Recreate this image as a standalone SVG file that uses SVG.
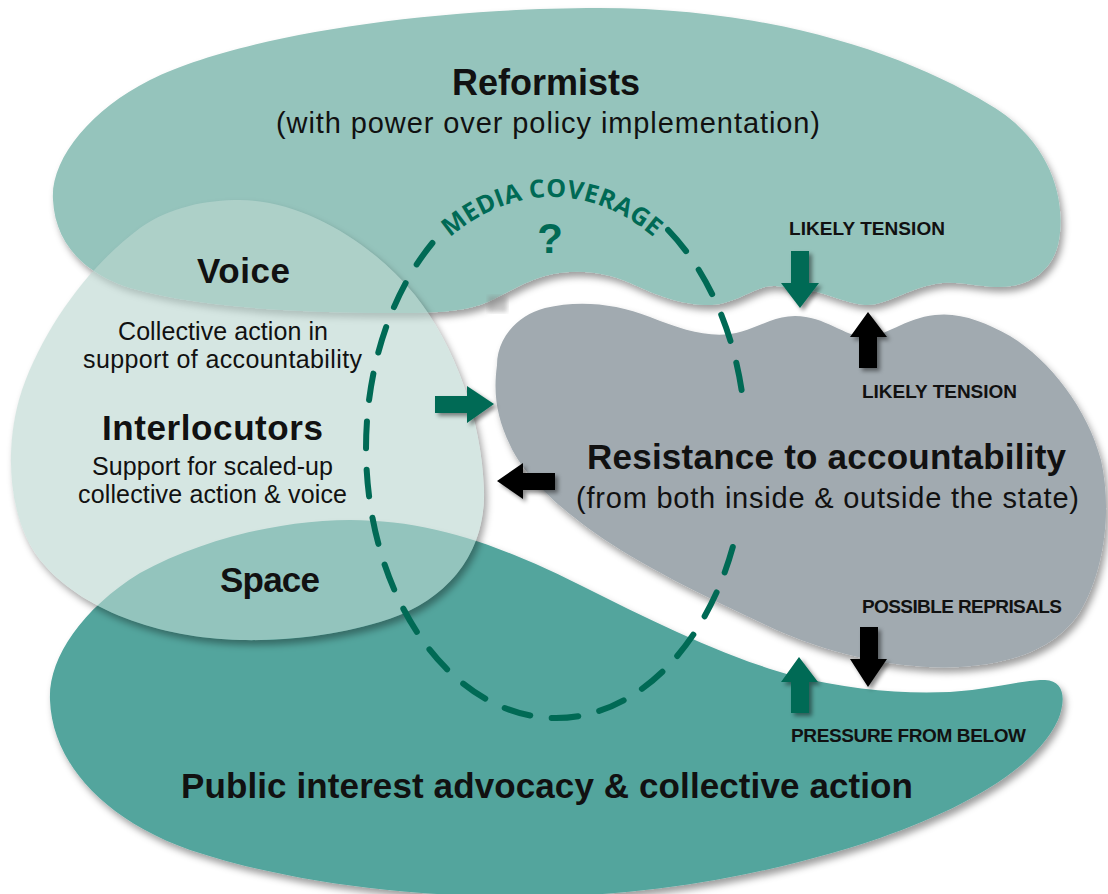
<svg xmlns="http://www.w3.org/2000/svg" width="1108" height="894" viewBox="0 0 1108 894">
<defs>
<style>
.t{font-family:"Liberation Sans",Arial,sans-serif;fill:#111}
.b{font-weight:bold}
.cap{font-weight:bold;font-size:19px}
.media{font-family:"Open Sans","Liberation Sans",sans-serif;font-weight:700;font-size:25px;fill:#006A55;letter-spacing:0.3px}
.green{fill:#006A55}
.black{fill:#000}
.dash{fill:none;stroke:#006A55;stroke-width:6;stroke-linecap:round;stroke-dasharray:26 21}
</style>
<filter id="blobShadow" x="-10%" y="-10%" width="125%" height="130%">
<feDropShadow dx="3" dy="5" stdDeviation="3.5" flood-color="#000" flood-opacity="0.38"/>
</filter>
<filter id="outShadow" x="-10%" y="-10%" width="125%" height="130%">
<feGaussianBlur in="SourceAlpha" stdDeviation="3.5"/>
<feOffset dx="3" dy="5" result="b"/>
<feFlood flood-color="#000" flood-opacity="0.35"/>
<feComposite in2="b" operator="in" result="s"/>
<feComposite in="s" in2="SourceAlpha" operator="out"/>
</filter>
<filter id="arrowShadow" x="-30%" y="-30%" width="170%" height="170%">
<feDropShadow dx="3" dy="3" stdDeviation="2" flood-color="#000" flood-opacity="0.45"/>
</filter>
<filter id="soft"><feGaussianBlur stdDeviation="2"/></filter>
<path id="lightBlob" d="M 240 200 C 300 200, 370 240, 415 295 C 455 345, 482 420, 484 490 C 486 560, 440 605, 380 622 C 330 637, 280 641, 240 640 C 160 638, 80 610, 40 560 C 5 515, 5 440, 22 390 C 45 325, 90 265, 140 228 C 170 207, 205 200, 240 200 Z"/>
<path id="mediaArc" d="M 362 457 A 190 260 0 0 1 742 457"/>
</defs>

<rect width="1108" height="894" fill="#fff"/>

<g id="reformists">
<path filter="url(#blobShadow)" fill="#95C4BC" d="M 53 200 C 50 160, 90 110, 150 80 C 230 40, 400 10, 587 8 C 760 6, 900 50, 990 105 C 1050 140, 1068 200, 1058 245 C 1050 275, 1025 288, 995 287 C 975 286, 955 280, 935 284 C 905 290, 885 306, 865 305 C 845 304, 825 291, 800 289 C 785 288, 775 284, 765 287 C 745 293, 730 306, 705 305 C 675 304, 650 292, 630 283 C 605 272, 575 268, 545 276 C 520 283, 500 298, 480 305 C 460 312, 430 313, 400 313 C 300 313, 200 308, 130 288 C 80 272, 55 240, 53 200 Z"/>
<rect x="488" y="296" width="19" height="16" fill="#888" opacity="0.45" filter="url(#soft)"/>
</g>

<g id="resistance">
<path filter="url(#blobShadow)" fill="#A1AAB0" d="M 497 365 C 497 340, 515 316, 545 308 C 578 300, 615 303, 650 317 C 680 329, 705 337, 730 334 C 755 331, 770 316, 795 316 C 825 316, 845 337, 866 337 C 885 337, 905 318, 935 315 C 960 312, 985 322, 1010 336 C 1050 360, 1088 410, 1101 460 C 1112 510, 1105 570, 1080 612 C 1055 650, 1010 664, 960 667 C 900 670, 830 655, 770 627 C 700 594, 640 565, 595 533 C 560 508, 525 478, 510 445 C 497 418, 493 395, 497 365 Z"/>
</g>

<g id="public-interest">
<path filter="url(#blobShadow)" fill="#52A59D" d="M 50 700 C 48 660, 80 610, 140 573 C 200 540, 280 520, 350 520 C 430 520, 500 545, 580 585 C 650 620, 720 655, 790 675 C 850 690, 900 694, 950 692 C 990 690, 1020 680, 1045 680 C 1065 681, 1066 700, 1058 720 C 1035 770, 960 810, 880 838 C 780 872, 660 895, 540 897 C 400 898, 280 880, 190 850 C 100 818, 52 760, 50 700 Z"/>
</g>

<g id="voice-interlocutors-space">
<use href="#lightBlob" fill="#000" filter="url(#outShadow)"/>
<use href="#lightBlob" fill="#BCD6D1" fill-opacity="0.62"/>
</g>

<g id="connectors">
<path class="green" filter="url(#arrowShadow)" d="M791 251 H809 V283 H819 L800 308 L781 283 H791 Z"/>
<path class="black" filter="url(#arrowShadow)" d="M868 312 L887 337 H877 V368 H859 V337 H850 Z"/>
<path class="green" filter="url(#arrowShadow)" d="M435 396 H467 V386 L494 404 L467 423 V413 H435 Z"/>
<path class="black" filter="url(#arrowShadow)" d="M497 481 L523 463 V473 H555 V490 H523 V499 Z"/>
<path class="black" filter="url(#arrowShadow)" d="M860 627 H878 V659 H887 L868 687 L850 659 H860 Z"/>
<path class="green" filter="url(#arrowShadow)" d="M799 657 L818 682 H809 V713 H791 V682 H781 Z"/>
</g>

<g id="media-coverage">
<path class="dash" pathLength="167" d="M 668.1 230 A 190 270 0 0 1 741.6 390"/>
<path class="dash" pathLength="825" d="M 732.8 547 A 190 270 0 1 1 432.4 243"/>
<text class="media"><textPath href="#mediaArc" startOffset="50%" text-anchor="middle">MEDIA COVERAGE</textPath></text>
<text class="t b" x="550" y="253" font-size="42" text-anchor="middle" style="fill:#006A55">?</text>
</g>

<g id="labels">
<text class="t b" x="452" y="95" font-size="36" textLength="188" lengthAdjust="spacingAndGlyphs">Reformists</text>
<text class="t" x="276" y="133" font-size="29" textLength="544">(with power over policy implementation)</text>
<text class="t b" x="197" y="283" font-size="35" textLength="93">Voice</text>
<text class="t" x="118" y="340" font-size="25" textLength="210">Collective action in</text>
<text class="t" x="83" y="368" font-size="25" textLength="279">support of accountability</text>
<text class="t b" x="102" y="440" font-size="35" textLength="221">Interlocutors</text>
<text class="t" x="92" y="475" font-size="25" textLength="241">Support for scaled-up</text>
<text class="t" x="78" y="503" font-size="25" textLength="269">collective action &amp; voice</text>
<text class="t b" x="220" y="592" font-size="35" textLength="100">Space</text>
<text class="t b" x="587" y="469" font-size="35" textLength="479">Resistance to accountability</text>
<text class="t" x="576" y="508" font-size="29" textLength="503">(from both inside &amp; outside the state)</text>
<text class="t b" x="181" y="798" font-size="35" textLength="732">Public interest advocacy &amp; collective action</text>
<text class="t cap" x="789" y="235" textLength="156">LIKELY TENSION</text>
<text class="t cap" x="862" y="398" textLength="155">LIKELY TENSION</text>
<text class="t cap" x="862" y="613" textLength="200">POSSIBLE REPRISALS</text>
<text class="t cap" x="791" y="742" textLength="235">PRESSURE FROM BELOW</text>
</g>
</svg>
